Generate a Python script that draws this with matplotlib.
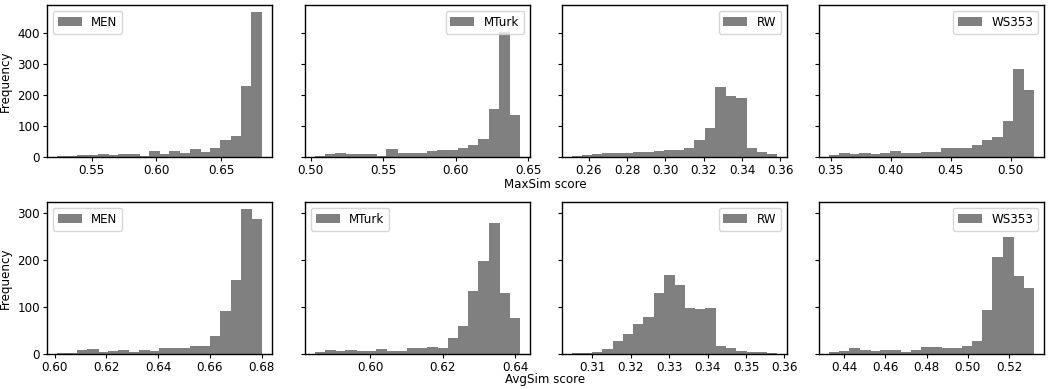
import numpy as np
import matplotlib
matplotlib.use("Agg")
import matplotlib.pyplot as plt

datasets = ["MEN", "MTurk", "RW", "WS353"]

# MaxSim (top row): bin range and counts per dataset (20 bins each)
max_ranges = [(0.5236, 0.6811), (0.5032, 0.6443), (0.2515, 0.3581), (0.3486, 0.5193)]
max_men = [1, 2, 5, 5, 9, 6, 9, 9, 3, 19, 9, 19, 12, 25, 16, 29, 52, 65, 228, 468]
max_mturk = [2, 9, 11, 8, 8, 8, 2, 23, 11, 11, 11, 19, 22, 22, 29, 36, 57, 155, 402, 133]
max_rw = [2, 4, 8, 11, 11, 11, 14, 14, 17, 20, 20, 26, 52, 91, 224, 197, 189, 29, 14, 7]
max_ws353 = [5, 10, 7, 10, 7, 10, 17, 10, 10, 16, 16, 26, 26, 26, 36, 52, 62, 115, 282, 216]

# AvgSim (bottom row)
avg_ranges = [(0.601, 0.680), (0.5849, 0.6412), (0.3048, 0.358), (0.4329, 0.5319)]
avg_men = [1, 1, 8, 10, 3, 5, 7, 3, 7, 5, 12, 12, 12, 16, 16, 38, 91, 157, 309, 288]
avg_mturk = [4, 8, 6, 8, 5, 5, 10, 5, 5, 12, 12, 14, 12, 34, 58, 133, 197, 278, 130, 75]
avg_rw = [1, 1, 4, 10, 26, 42, 63, 78, 130, 168, 147, 98, 96, 98, 16, 12, 6, 4, 4, 1]
avg_ws353 = [3, 6, 11, 8, 6, 8, 8, 3, 8, 14, 14, 11, 11, 16, 27, 93, 205, 248, 166, 140]

top_xticks = [[0.55, 0.60, 0.65], [0.50, 0.55, 0.60, 0.65],
              [0.26, 0.28, 0.30, 0.32, 0.34, 0.36], [0.35, 0.40, 0.45, 0.50]]
bot_xticks = [[0.60, 0.62, 0.64, 0.66, 0.68], [0.60, 0.62, 0.64],
              [0.31, 0.32, 0.33, 0.34, 0.35, 0.36], [0.44, 0.46, 0.48, 0.50, 0.52]]

top_locs = ["upper left", "upper right", "upper right", "upper right"]
bot_locs = ["upper left", "upper left", "upper right", "upper right"]

plt.rcParams["font.family"] = ["DejaVu Sans"]
plt.rcParams["font.size"] = 8.6
plt.rcParams["axes.linewidth"] = 1.0
plt.rcParams["xtick.major.size"] = 3.0
plt.rcParams["ytick.major.size"] = 3.0
plt.rcParams["xtick.major.pad"] = 1.8
plt.rcParams["ytick.major.pad"] = 2.0

W, H = 1048, 389
fig = plt.figure(figsize=(W / 100, H / 100), dpi=100)

lefts = [47, 305, 562, 819]
width = 225
rows = [(5, 157), (202, 354)]

def make_axes(row):
    y0, y1 = rows[row]
    axes = []
    for i, l in enumerate(lefts):
        rect = [l / W, 1 - y1 / H, width / W, (y1 - y0) / H]
        if i == 0:
            ax = fig.add_axes(rect)
        else:
            ax = fig.add_axes(rect, sharey=axes[0])
            ax.tick_params(labelleft=False)
        axes.append(ax)
    return axes

top_axes = make_axes(0)
bot_axes = make_axes(1)

top_counts = [max_men, max_mturk, max_rw, max_ws353]
bot_counts = [avg_men, avg_mturk, avg_rw, avg_ws353]

def draw(axes, ranges, counts_list, locs, xticks):
    for ax, name, rng, counts, loc, xt in zip(axes, datasets, ranges, counts_list, locs, xticks):
        edges = np.linspace(rng[0], rng[1], len(counts) + 1)
        centers = (edges[:-1] + edges[1:]) / 2
        ax.hist(centers, bins=edges, weights=counts, color="gray",
                linewidth=0, snap=False, antialiased=False, label=name)
        ax.set_xticks(xt)
        ax.set_xticklabels([f"{v:.2f}" for v in xt])
        ax.legend(loc=loc)

draw(top_axes, max_ranges, top_counts, top_locs, top_xticks)
draw(bot_axes, avg_ranges, bot_counts, bot_locs, bot_xticks)

for ax in (top_axes[0], bot_axes[0]):
    ax.set_ylabel("Frequency")
    ax.yaxis.set_label_coords((11.5 - 47) / width, 0.5)
top_axes[0].set_yticks([0, 100, 200, 300, 400])
bot_axes[0].set_yticks([0, 100, 200, 300])

xc = (lefts[0] + lefts[-1] + width) / 2 / W
fig.text(xc, 1 - 185 / H, "MaxSim score", ha="center", va="center")
fig.text(xc, 1 - 380 / H, "AvgSim score", ha="center", va="center")

fig.savefig("out.png", dpi=100)
